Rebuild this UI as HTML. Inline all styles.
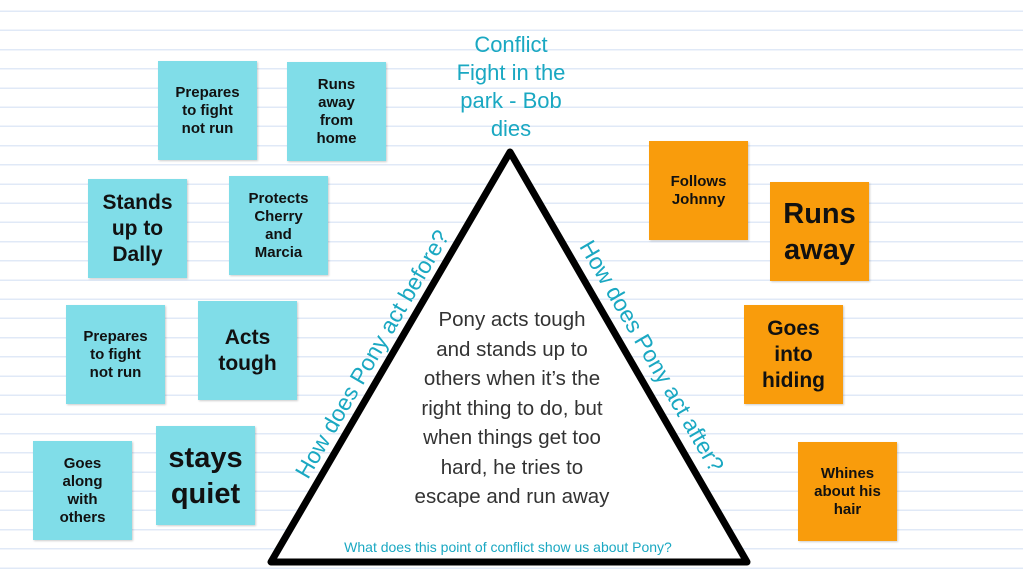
<!DOCTYPE html>
<html><head><style>
body{margin:0;width:1023px;height:575px;overflow:hidden;background:#fff;position:relative;font-family:"Liberation Sans",sans-serif;}
.bg{position:absolute;left:0;top:0;width:1023px;height:575px;background:repeating-linear-gradient(to bottom,transparent 0,transparent 10.5px,#e0e9f7 10.5px,#e0e9f7 12px,transparent 12px,transparent 19.2px);}
.n{position:absolute;width:99px;height:99px;display:flex;align-items:center;justify-content:center;text-align:center;font-weight:bold;color:#111;box-shadow:1px 1px 2px rgba(0,0,0,.2);font-size:15px;line-height:18px;}
.c{background:#80dde8;}.o{background:#f99c0c;}
.big{font-size:21px;line-height:26px;}
.huge{font-size:29px;line-height:36px;}
.t{position:absolute;color:#1aa8c2;text-align:center;}
</style></head><body>
<div class="bg"></div>
<div class="n c" style="left:158px;top:61px">Prepares<br>to fight<br>not run</div>
<div class="n c" style="left:287px;top:62px">Runs<br>away<br>from<br>home</div>
<div class="n c big" style="left:88px;top:179px">Stands<br>up to<br>Dally</div>
<div class="n c" style="left:229px;top:176px">Protects<br>Cherry<br>and<br>Marcia</div>
<div class="n c" style="left:66px;top:305px">Prepares<br>to fight<br>not run</div>
<div class="n c big" style="left:198px;top:301px">Acts<br>tough</div>
<div class="n c" style="left:33px;top:441px">Goes<br>along<br>with<br>others</div>
<div class="n c huge" style="left:156px;top:426px">stays<br>quiet</div>
<div class="n o" style="left:649px;top:141px;align-items:flex-start;padding-top:0"><div style="margin-top:32px">Follows<br>Johnny</div></div>
<div class="n o huge" style="left:770px;top:182px">Runs<br>away</div>
<div class="n o big" style="left:744px;top:305px">Goes<br>into<br>hiding</div>
<div class="n o" style="left:798px;top:442px">Whines<br>about his<br>hair</div>
<svg style="position:absolute;left:0;top:0" width="1023" height="575">
<polygon points="510,152 271,562 747,562" fill="#fff" stroke="#000" stroke-width="7" stroke-linejoin="round"/>
</svg>
<div class="t" style="left:411px;top:31px;width:200px;font-size:22px;line-height:28px">Conflict<br>Fight in the<br>park - Bob<br>dies</div>
<div class="t" style="left:212px;top:340px;width:320px;font-size:23px;line-height:28px;transform:rotate(-59.8deg)">How does Pony act before?</div>
<div class="t" style="left:492px;top:342px;width:320px;font-size:23px;line-height:28px;transform:rotate(59.8deg)">How does Pony act after?</div>
<div style="position:absolute;left:362px;top:305px;width:300px;text-align:center;font-size:20.5px;line-height:29.5px;color:#333">Pony acts tough<br>and stands up to<br>others when it’s the<br>right thing to do, but<br>when things get too<br>hard, he tries to<br>escape and run away</div>
<div class="t" style="left:258px;top:539px;width:500px;font-size:14px">What does this point of conflict show us about Pony?</div>
</body></html>
